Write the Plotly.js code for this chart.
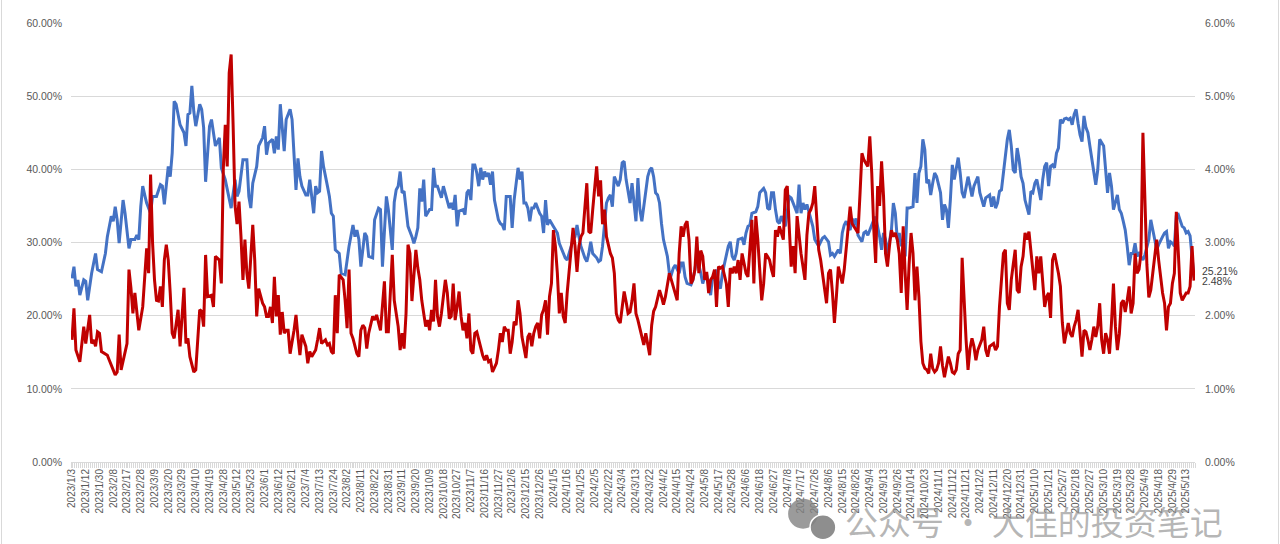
<!DOCTYPE html>
<html>
<head>
<meta charset="utf-8">
<script src="https://cdn.plot.ly/plotly-3.0.1.min.js"></script>
<style>
body { margin: 0; background: #fff; }
#wrap { position: relative; width: 1280px; height: 544px; }
#grafica { width: 1280px; height: 544px; }
#marco { position: absolute; left: 1px; top: 0; width: 1276px; height: 544px; border-left: 1px solid #d9d9d9; border-right: 1px solid #d9d9d9; pointer-events: none; }
</style>
</head>
<body>
<div id="wrap"><div id="grafica"></div><div id="marco"></div></div>
<script>
// etiquetas del eje x: una cada 7 dias habiles
var fechas = ['2023/1/3','2023/1/12','2023/1/30','2023/2/8','2023/2/17','2023/2/28','2023/3/9','2023/3/20','2023/3/29','2023/4/10','2023/4/19','2023/4/28','2023/5/12','2023/5/23','2023/6/1','2023/6/12','2023/6/21','2023/7/4','2023/7/13','2023/7/24','2023/8/2','2023/8/11','2023/8/22','2023/8/31','2023/9/11','2023/9/20','2023/10/9','2023/10/18','2023/10/27','2023/11/7','2023/11/16','2023/11/27','2023/12/6','2023/12/15','2023/12/26','2024/1/5','2024/1/16','2024/1/25','2024/2/5','2024/2/22','2024/3/4','2024/3/13','2024/3/22','2024/4/2','2024/4/15','2024/4/24','2024/5/8','2024/5/17','2024/5/28','2024/6/6','2024/6/18','2024/6/27','2024/7/8','2024/7/17','2024/7/26','2024/8/6','2024/8/15','2024/8/26','2024/9/4','2024/9/13','2024/9/26','2024/10/14','2024/10/23','2024/11/1','2024/11/12','2024/11/21','2024/12/2','2024/12/11','2024/12/20','2024/12/31','2025/1/10','2025/1/21','2025/2/7','2025/2/18','2025/2/27','2025/3/10','2025/3/19','2025/3/28','2025/4/9','2025/4/18','2025/4/29','2025/5/13'];
var paso = 7;
var nDias = 572;

// serie azul (eje izquierdo, %) : dia habil -> valor
var azulDia = [
0,1,2,3,4,6,7,8,10,12,13,15,17,18,20,21,22,23,24,26,
27,29,30,32,33,34,35,36,37,38,40,41,43,45,46,47,49,50,51,52,
53,55,57,58,59,60,61,62,63,65,66,67,68,69,70,71,73,75,76,78,
79,81,83,84,85,87,89,90,91,92,94,95,97,98,99,100,102,103,104,105,
106,107,108,109,111,112,113,114,115,116,117,119,120,121,123,124,125,126,127,128,
130,131,132,133,134,136,137,139,141,143,144,145,146,147,149,150,151,153,154,156,
157,158,160,161,163,164,165,166,167,168,169,170,171,173,174,175,176,177,178,179,
180,182,183,184,185,186,188,189,190,191,192,193,194,195,196,197,199,200,201,202,
203,204,205,206,207,208,209,210,211,212,213,214,215,217,218,219,220,221,223,224,
225,227,228,229,230,231,232,233,234,235,236,238,239,240,241,242,243,245,247,248,
250,251,252,253,255,256,257,258,259,261,262,263,264,265,267,268,269,270,271,272,
273,274,275,276,278,279,280,281,282,284,285,286,287,288,289,290,291,292,293,294,
295,296,297,298,299,300,301,303,304,305,306,307,309,310,311,312,313,315,316,317,
318,320,321,322,323,325,326,327,328,329,330,331,333,334,335,336,337,338,339,341,
342,343,344,345,346,348,349,350,352,353,354,355,356,357,358,359,360,361,363,364,
365,366,368,369,370,371,372,373,374,376,377,378,380,381,382,383,385,386,387,388,
390,391,392,393,394,396,397,398,399,400,402,403,404,405,406,408,409,410,411,412,
413,414,415,417,418,419,420,421,422,423,424,425,426,428,429,430,431,432,433,434,
435,436,437,438,439,440,442,443,444,445,446,447,448,449,450,451,452,453,454,456,
457,458,459,461,462,463,464,465,467,468,469,470,471,472,473,474,476,477,478,479,
480,481,482,483,484,485,486,487,488,489,490,491,492,493,494,495,496,497,498,499,
500,501,502,503,504,505,506,507,508,509,510,511,512,513,514,515,516,517,518,519,
520,521,522,523,525,526,527,528,529,530,531,532,533,534,535,536,537,538,539,540,
541,542,543,544,545,546,548,549,550,551,552,553,555,556,557,558,559,560,561,562,
563,564,565,566,567,568,569,570,571];
var azulValor = [
25.1,26.7,24.0,24.9,22.8,24.9,24.7,22.1,25.8,28.5,26.3,26.0,28.5,30.8,33.6,32.9,34.9,33.1,29.9,35.8,
34.0,29.2,30.4,30.4,31.0,30.4,34.9,37.7,36.5,35.4,34.0,36.3,36.3,37.9,37.7,35.2,40.4,39.0,42.2,49.3,
48.9,46.1,45.0,43.2,47.5,47.7,51.4,47.9,45.9,48.9,48.2,45.7,38.3,42.7,45.9,46.8,43.2,44.3,40.2,38.6,
37.2,34.7,38.6,36.3,37.0,41.3,41.3,36.3,34.7,38.1,40.4,43.2,44.3,45.9,42.0,43.6,44.1,42.2,44.5,42.7,
48.9,45.4,42.5,46.8,48.2,46.8,42.2,37.2,41.5,39.0,37.7,36.5,36.5,38.6,34.0,37.7,36.8,37.0,42.5,40.4,
37.7,36.3,34.0,33.6,29.0,28.5,25.8,25.6,29.5,32.4,30.8,31.7,30.4,26.7,31.3,30.8,28.1,27.9,33.1,34.7,
34.5,26.7,36.3,34.5,29.0,35.5,37.2,37.7,39.7,36.8,37.0,34.9,32.2,30.8,29.9,30.8,32.0,37.4,35.6,38.6,
33.6,34.5,34.5,40.2,37.7,37.7,36.1,37.7,36.8,35.8,34.7,35.4,34.5,36.5,32.2,34.3,34.5,33.8,36.8,37.2,
35.8,40.6,40.6,39.5,37.7,40.2,38.6,39.7,39.0,39.5,37.9,39.7,35.8,33.1,32.6,32.4,31.7,36.3,36.3,32.0,
35.8,40.2,38.6,39.7,35.4,35.4,34.7,32.9,34.7,34.7,35.4,34.0,33.6,31.3,35.8,32.4,33.1,32.2,31.3,29.9,
28.5,27.9,27.6,28.5,30.4,30.8,32.4,30.8,29.5,27.9,27.4,28.5,30.1,28.5,27.9,27.4,27.6,29.5,32.2,35.4,
36.1,36.5,34.9,39.0,37.7,38.6,40.9,41.1,38.6,35.4,38.1,34.9,32.9,38.8,34.5,32.9,34.9,37.2,39.0,39.9,
40.2,39.0,36.8,36.5,35.4,32.6,30.4,28.1,25.8,25.6,26.5,26.9,25.8,27.2,27.2,25.3,24.4,24.2,24.9,26.3,
28.1,25.8,24.4,25.3,25.6,22.8,25.3,24.9,26.3,24.4,23.7,25.8,28.1,29.5,30.1,28.1,27.6,28.5,30.4,30.6,
29.7,31.3,32.2,32.4,34.0,34.2,34.9,36.8,37.4,36.8,34.7,34.5,36.8,36.8,34.5,32.9,32.6,33.6,32.2,34.0,
36.3,36.1,34.5,34.0,37.9,34.0,35.4,34.5,35.2,33.1,32.2,30.4,29.5,30.1,30.6,30.8,30.1,28.3,28.5,28.1,
29.0,28.5,31.3,32.4,32.9,31.7,33.3,32.4,33.3,31.0,30.1,31.3,31.5,31.0,31.7,33.1,33.5,32.2,30.8,29.0,
31.3,30.4,28.5,31.7,35.4,34.0,30.4,31.3,29.5,30.4,28.1,34.7,34.7,34.9,39.5,35.4,39.5,40.4,44.1,42.7,
38.1,38.6,36.5,38.1,39.5,39.0,36.8,33.1,35.2,34.5,32.0,35.8,40.6,38.6,40.4,41.6,39.5,36.8,36.1,39.0,
37.7,36.3,37.7,39.0,36.8,35.8,34.9,36.1,36.5,34.9,36.3,34.7,35.4,37.0,37.2,39.5,44.1,45.4,43.2,39.9,
39.5,42.9,41.3,39.0,38.1,35.8,34.9,33.8,37.0,36.8,38.1,38.6,37.2,35.8,38.6,40.4,40.9,37.7,40.4,40.6,
40.2,42.2,42.9,46.8,46.3,46.9,47.0,46.8,47.0,46.1,47.5,48.2,46.3,44.7,43.8,47.3,45.7,45.0,43.2,41.3,
39.5,37.9,39.9,44.1,43.2,40.4,36.8,39.5,37.7,34.5,35.4,36.5,34.5,34.0,32.9,31.7,29.5,26.9,28.5,28.5,
29.9,28.1,28.5,28.1,27.6,28.3,30.4,33.1,31.9,30.4,29.0,29.7,30.8,31.3,31.5,29.2,30.1,29.9,29.5,33.6,
33.8,33.1,32.2,32.0,31.3,31.5,30.9,28.0,25.21];

// serie roja (eje derecho, %)
var rojoDia = [
0,1,2,3,4,6,7,9,10,11,12,13,14,15,17,18,19,21,22,23,
24,25,27,28,29,30,31,32,34,35,36,38,39,40,41,42,43,44,45,46,
47,48,49,50,51,52,54,55,57,58,59,60,62,63,64,65,66,67,68,69,
71,72,73,75,76,77,78,79,80,81,82,83,84,85,86,87,88,89,90,92,
93,94,95,97,98,99,100,101,102,103,104,105,106,107,108,109,110,111,113,114,
115,116,117,119,120,121,122,124,125,126,127,129,130,131,132,133,134,135,136,138,
139,140,141,142,143,145,146,147,148,149,150,151,153,154,155,156,157,159,160,161,
162,163,164,165,166,167,168,169,170,171,172,173,174,175,176,177,178,179,180,181,
182,183,184,185,186,187,188,190,191,192,193,194,195,196,197,198,199,200,201,202,
203,204,205,206,207,208,209,210,211,212,213,214,216,217,218,219,220,221,222,223,
224,225,226,227,228,229,231,232,233,234,235,236,237,238,239,240,241,242,243,244,
245,246,247,248,249,250,251,252,253,254,255,256,257,258,259,260,261,262,263,264,
265,266,267,268,269,270,271,272,273,274,275,276,277,278,279,280,281,282,283,284,
285,286,287,288,289,290,291,292,293,294,295,296,297,298,299,300,301,302,303,304,
305,306,307,308,309,310,311,312,313,314,315,316,317,318,319,320,321,322,323,324,
325,326,327,328,329,330,331,332,333,334,335,336,337,338,339,340,341,342,343,344,
345,346,347,348,349,350,351,352,353,354,355,356,357,358,359,360,361,362,363,364,
365,366,367,368,369,370,371,372,373,374,375,376,377,378,379,380,381,382,383,384,
385,386,387,388,389,390,391,392,393,394,395,396,397,398,399,400,401,402,403,404,
405,406,407,408,409,410,411,412,413,414,415,416,417,418,419,420,421,422,423,424,
425,426,427,428,429,430,431,432,433,434,435,436,437,438,439,440,441,442,443,444,
445,446,447,448,449,450,451,452,453,454,455,456,457,458,459,460,461,462,463,464,
465,466,467,468,469,470,471,472,473,474,475,476,477,478,479,480,481,482,483,484,
485,486,487,488,489,490,491,492,493,494,495,496,497,498,499,500,501,502,503,504,
505,506,507,508,509,510,511,512,513,514,515,516,517,518,519,520,521,522,523,524,
525,526,527,528,529,530,531,532,533,534,535,536,537,538,539,540,541,542,543,544,
545,546,547,548,549,550,551,552,553,554,555,556,557,558,559,560,561,562,563,564,
565,566,567,568,569,570,571];
var rojoValor = [
1.67,2.10,1.53,1.44,1.37,1.85,1.62,2.01,1.62,1.67,1.58,1.78,1.76,1.51,1.48,1.46,1.39,1.26,1.19,1.23,
1.74,1.26,1.51,1.62,2.63,2.38,2.03,2.31,1.80,1.94,2.12,2.92,2.58,3.93,3.00,2.49,2.21,2.20,2.40,2.12,
2.76,2.97,2.76,2.31,1.76,1.69,2.08,1.58,2.38,1.62,1.69,1.44,1.23,1.26,1.76,2.08,2.06,1.85,2.83,2.26,
2.28,2.12,2.81,2.76,2.44,4.00,4.61,4.04,5.32,5.57,4.60,3.50,3.25,3.56,3.08,2.49,3.04,2.58,2.37,3.24,
2.76,1.99,2.37,2.17,2.12,1.99,1.99,2.12,1.90,2.53,1.99,2.28,1.74,2.05,1.76,1.80,1.80,1.48,1.80,2.01,
1.71,1.46,1.74,1.58,1.35,1.51,1.44,1.53,1.67,1.83,1.62,1.67,1.60,1.62,1.51,1.48,2.28,1.76,2.56,2.49,
2.21,1.83,2.63,1.76,1.69,1.48,1.44,1.80,1.87,1.83,1.55,1.76,1.99,1.94,2.01,1.90,1.80,2.47,1.78,1.78,
2.31,2.83,2.21,1.99,1.85,1.53,1.76,1.55,2.03,2.97,2.85,2.20,2.60,2.90,2.65,2.49,2.21,1.99,1.85,1.94,
1.80,2.08,1.92,2.49,1.99,1.85,2.03,2.49,2.31,1.96,1.99,2.44,1.94,2.12,2.33,1.99,1.80,1.90,1.69,2.03,
1.53,1.48,1.76,1.78,1.67,1.55,1.46,1.39,1.46,1.37,1.39,1.23,1.35,1.53,1.76,1.64,1.85,1.80,1.80,1.48,
1.64,1.92,1.87,2.21,2.03,1.71,1.42,1.71,1.76,1.58,1.76,1.85,1.90,1.69,2.01,2.08,2.21,1.74,2.26,2.44,
3.17,2.95,2.58,2.03,2.31,1.99,1.90,2.31,2.63,2.90,3.20,2.95,2.60,2.95,3.08,3.13,3.49,3.81,3.15,3.13,
3.45,3.77,4.04,3.63,3.85,3.25,3.45,3.08,2.95,2.85,2.79,2.58,2.03,1.94,1.90,2.12,2.33,2.19,2.03,2.05,
2.21,2.44,2.03,1.94,1.83,1.71,1.60,1.76,1.58,1.46,1.87,2.06,2.12,2.24,2.35,2.26,2.15,2.26,2.40,2.58,
2.49,2.40,2.31,2.21,2.85,3.22,3.08,3.24,3.29,3.04,2.44,2.49,2.63,3.08,2.58,2.89,2.81,2.49,2.60,2.31,
2.49,2.53,2.63,2.12,2.67,2.65,2.67,2.53,2.44,2.12,2.65,2.58,2.67,2.58,2.76,2.49,2.85,2.72,2.58,2.53,
2.95,3.31,2.44,3.36,3.04,2.67,2.21,2.44,2.85,2.81,2.76,2.63,2.53,3.17,3.08,3.22,3.13,3.04,3.72,3.77,
3.22,2.67,2.95,2.58,3.36,3.08,2.85,2.67,2.49,3.10,3.40,3.45,3.54,3.77,3.36,2.90,2.76,2.58,2.40,2.17,
2.58,2.63,2.31,1.90,2.26,2.67,2.55,2.44,2.63,2.95,3.26,3.49,3.26,3.22,3.17,3.13,3.65,4.22,4.13,4.09,
4.04,4.45,3.95,3.20,2.72,3.77,3.50,4.11,3.63,2.85,2.67,2.95,3.17,3.08,3.13,3.04,2.85,2.31,3.22,2.58,
2.08,2.70,3.13,2.85,2.21,2.67,2.26,1.65,1.35,1.28,1.26,1.21,1.48,1.28,1.23,1.26,1.35,1.58,1.32,1.16,
1.30,1.44,1.35,1.23,1.21,1.26,1.48,1.53,2.79,2.12,1.67,1.26,1.55,1.69,1.58,1.39,1.53,1.60,1.67,1.85,
1.53,1.44,1.58,1.60,1.62,1.53,1.58,2.12,2.55,2.85,2.90,2.17,2.08,2.49,2.70,2.90,2.35,2.31,2.67,2.81,
3.13,3.04,3.15,2.90,2.58,2.35,2.81,2.58,2.81,2.40,2.12,2.26,2.31,1.97,2.76,2.85,2.72,2.58,2.40,1.90,
1.62,1.78,1.90,1.76,1.71,1.85,1.94,2.08,1.76,1.44,1.80,1.78,1.67,1.53,1.67,1.85,1.71,1.85,2.17,1.67,
1.48,1.76,1.67,1.48,1.90,2.44,1.85,1.53,1.75,2.17,2.21,2.05,2.21,2.40,2.03,2.17,2.85,2.58,2.63,2.85,
4.50,3.63,2.70,2.25,2.35,2.58,2.85,3.04,2.76,2.49,2.31,2.17,1.80,2.12,2.17,2.44,2.58,3.42,2.95,2.31,
2.21,2.26,2.31,2.31,2.40,2.95,2.48];

function grafica_volatilidad(){
    var posEtiquetas = fechas.map(function(f, k){ return k * paso; });
    var ultAzul = azulValor[azulValor.length - 1];
    var ultRojo = rojoValor[rojoValor.length - 1];

    var traza_azul = {
        x: azulDia, y: azulValor,
        type: 'scatter', mode: 'lines',
        line: {color: '#4472C4', width: 3, shape: 'linear'},
        hoverinfo: 'skip'
    };
    var traza_roja = {
        x: rojoDia, y: rojoValor, yaxis: 'y2',
        type: 'scatter', mode: 'lines',
        line: {color: '#C00000', width: 3, shape: 'linear'},
        hoverinfo: 'skip'
    };

    var gris = '#595959';
    var fuenteEje = {family: 'Liberation Sans, Arial, sans-serif', size: 10.5, color: gris};

    var layout = {
        width: 1280, height: 544,
        margin: {t: 23, b: 82, l: 71, r: 85},
        paper_bgcolor: '#ffffff', plot_bgcolor: '#ffffff',
        showlegend: false,
        xaxis: {
            range: [-0.5, nDias - 0.5],
            tickmode: 'array', tickvals: posEtiquetas, ticktext: fechas,
            tickangle: -90, tickfont: {family: 'Liberation Sans, Arial, sans-serif', size: 10, color: gris},
            ticks: '', showgrid: false, zeroline: false,
            showline: true, linecolor: '#d9d9d9', linewidth: 1,
            ticklabelstandoff: 2,
            minor: {tickmode: 'linear', tick0: -0.5, dtick: 1, ticks: 'outside', ticklen: 5, tickcolor: '#d9d9d9', tickwidth: 1, showgrid: false}
        },
        yaxis: {
            range: [0, 60], dtick: 10, tickformat: '.2f', ticksuffix: '%',
            tickfont: fuenteEje, showgrid: true, gridcolor: '#d9d9d9', gridwidth: 1,
            zeroline: false, showline: false, ticks: '', ticklabelstandoff: 8
        },
        yaxis2: {
            range: [0, 6], dtick: 1, tickformat: '.2f', ticksuffix: '%',
            overlaying: 'y', side: 'right',
            tickfont: fuenteEje, showgrid: false, zeroline: false, showline: false,
            ticks: '', ticklabelstandoff: 9
        },
        annotations: [
            {x: azulDia[azulDia.length - 1], y: ultAzul, xref: 'x', yref: 'y',
             text: ultAzul.toFixed(2) + '%', showarrow: false, xanchor: 'left', yanchor: 'middle',
             xshift: 6, yshift: 7, font: {family: 'Liberation Sans, Arial, sans-serif', size: 10.5, color: '#404040'}},
            {x: rojoDia[rojoDia.length - 1], y: ultRojo, xref: 'x', yref: 'y2',
             text: ultRojo.toFixed(2) + '%', showarrow: false, xanchor: 'left', yanchor: 'middle',
             xshift: 6, yshift: 0, font: {family: 'Liberation Sans, Arial, sans-serif', size: 10.5, color: '#404040'}},
            {x: 0.6868, y: -0.135, xref: 'paper', yref: 'paper',
             text: '公众号 · 大佳的投资笔记', showarrow: false, xanchor: 'left', yanchor: 'middle',
             font: {family: 'Noto Sans CJK SC, sans-serif', size: 33, color: 'rgba(150,150,150,0.7)'}}
        ],
        shapes: [
            {type: 'circle', xref: 'paper', yref: 'paper', x0: 0.638, x1: 0.6646, y0: -0.152, y1: -0.0838,
             fillcolor: 'rgba(130,130,130,0.8)', line: {width: 0}},
            {type: 'circle', xref: 'paper', yref: 'paper', x0: 0.6575, x1: 0.6805, y0: -0.177, y1: -0.12,
             fillcolor: 'rgba(130,130,130,0.9)', line: {width: 1.5, color: '#ffffff'}}
        ]
    };

    Plotly.newPlot('grafica', [traza_azul, traza_roja], layout, {staticPlot: true});
}

grafica_volatilidad();
</script>
</body>
</html>
